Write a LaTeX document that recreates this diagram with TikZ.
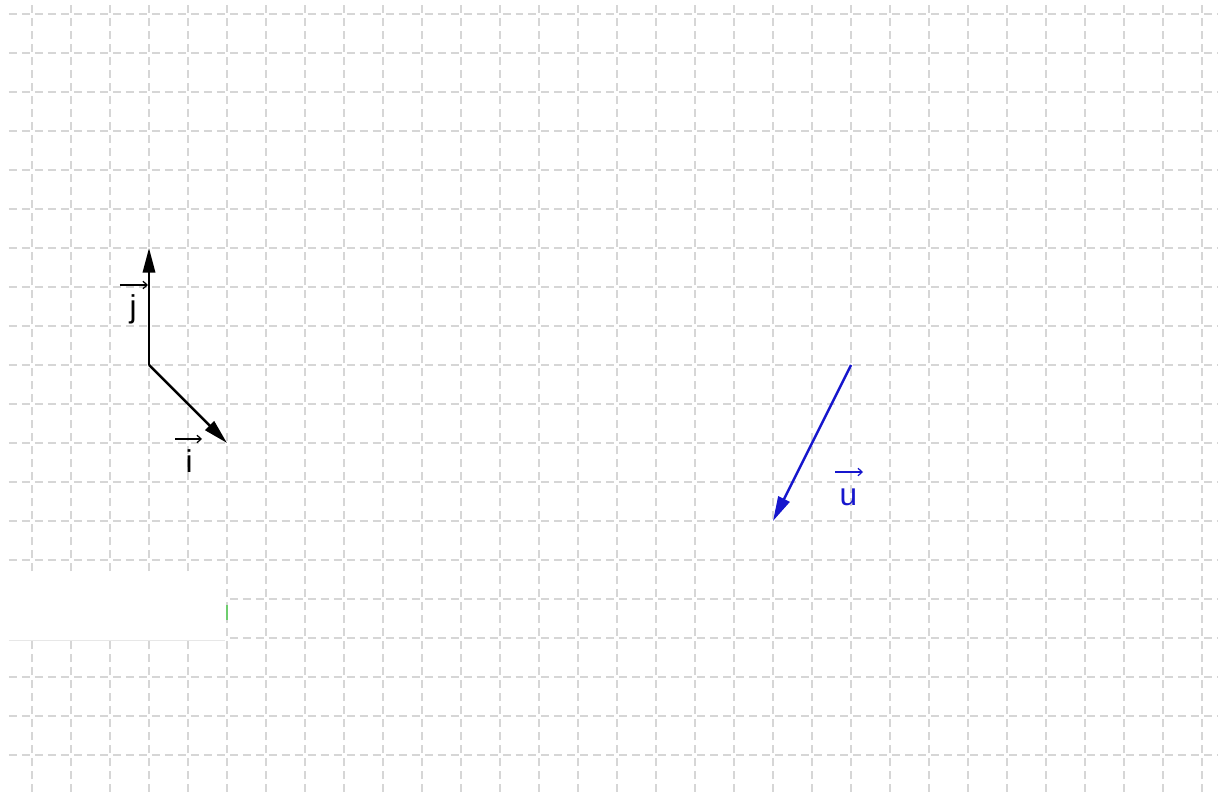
\documentclass[tikz,border=0pt]{standalone}
\usepackage{fontspec}
\setmainfont{Liberation Sans}
\usetikzlibrary{arrows.meta}
\definecolor{gridgray}{RGB}{214,214,214}
\definecolor{ublue}{RGB}{22,22,205}
\definecolor{tickgreen}{RGB}{110,205,110}
\tikzset{
  gridline/.style={draw=gridgray, line width=1.1pt, dash pattern=on 0.205cm off 0.128cm},
  vecline/.style={line width=1.8pt, -{Triangle[length=18pt,width=9pt]}},
  vecmark/.style={line width=0.9pt, -{Straight Barb[length=3pt,width=5.5pt]}},
  veclabel/.style={anchor=base, inner sep=0pt, font=\fontsize{23}{27}\selectfont}
}
\begin{document}
\begin{tikzpicture}
\useasboundingbox (-0.8205,-0.9487) rectangle (30.4103,19.359);
\fill[white] (-0.8205,-0.9487) rectangle (30.4103,19.359);
% grid
\foreach \x in {0,...,30} \draw[gridline] (\x,-0.9487) -- (\x,19.359);
\foreach \y in {0,...,19} \draw[gridline] (-0.59,\y) -- (30.41,\y);
% white patch at the lower left
\fill[white] (-0.8205,2.962) rectangle (4.95,4.667);
\draw[gridgray!60, line width=0.4pt] (-0.59,2.949) -- (4.95,2.949);
\draw[tickgreen, line width=1pt] (5,3.846) -- (5,3.462);
% points
\coordinate (O) at (3,10);
\coordinate (J) at (3,13);
\coordinate (I) at (5,8);
\coordinate (U1) at (21,10);
\coordinate (U2) at (19,6);
% vectors
\draw[vecline, black] (O) -- (J);
\draw[vecline, black] (O) -- (I);
\draw[vecline, ublue] (U1) -- (U2);
% labels
\node[veclabel] (jl) at (2.59,11.205) {j};
\coordinate (jm1) at (2.256,12.051);
\coordinate (jm2) at (2.974,12.051);
\draw[vecmark] (jm1) -- (jm2);
\node[veclabel] (il) at (4.026,7.256) {i};
\coordinate (im1) at (3.667,8.103);
\coordinate (im2) at (4.359,8.103);
\draw[vecmark] (im1) -- (im2);
\node[veclabel, text=ublue] (ul) at (20.936,6.41) {u};
\coordinate (um1) at (20.59,7.256);
\coordinate (um2) at (21.308,7.256);
\draw[vecmark, ublue] (um1) -- (um2);
\end{tikzpicture}
\end{document}
